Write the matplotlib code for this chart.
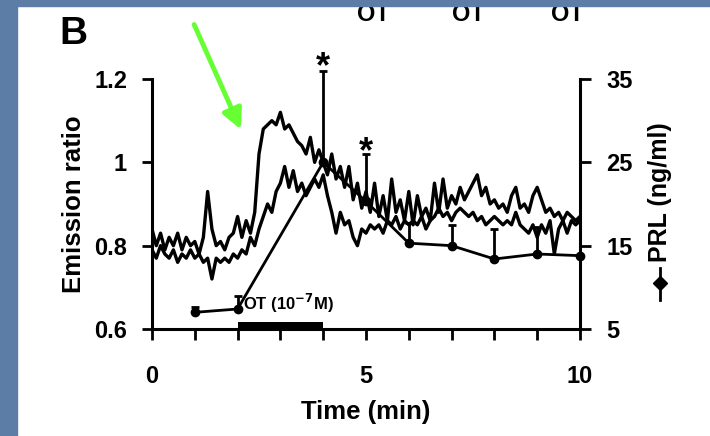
import matplotlib
matplotlib.use("Agg")
import matplotlib.pyplot as plt
import numpy as np
from matplotlib.patches import Rectangle
from matplotlib.lines import Line2D

plt.rcParams["font.family"] = ["Liberation Sans", "DejaVu Sans"]
plt.rcParams["font.weight"] = "bold"

time_trace = np.arange(101) / 10
ratio_a = [0.84, 0.80, 0.83, 0.79, 0.82, 0.80, 0.83, 0.79, 0.82, 0.80,
           0.81, 0.78, 0.82, 0.93, 0.84, 0.80, 0.81, 0.79, 0.82, 0.83,
           0.87, 0.82, 0.86, 0.83, 0.88, 1.02, 1.08, 1.09, 1.10, 1.09,
           1.12, 1.08, 1.09, 1.07, 1.05, 1.04, 1.02, 1.06, 1.00, 1.03,
           1.00, 0.97, 1.02, 0.96, 0.99, 0.94, 0.99, 0.91, 0.95, 0.89,
           0.93, 0.88, 0.95, 0.87, 0.92, 0.86, 0.96, 0.88, 0.91, 0.86,
           0.93, 0.85, 0.92, 0.87, 0.89, 0.86, 0.95, 0.88, 0.96, 0.89,
           0.92, 0.90, 0.94, 0.91, 0.93, 0.95, 0.97, 0.92, 0.94, 0.90,
           0.91, 0.89, 0.90, 0.88, 0.92, 0.94, 0.89, 0.90, 0.88, 0.92,
           0.94, 0.91, 0.88, 0.89, 0.87, 0.88, 0.86, 0.88, 0.87, 0.86,
           0.87]
ratio_b = [0.79, 0.77, 0.80, 0.78, 0.77, 0.79, 0.76, 0.78, 0.77, 0.79,
           0.77, 0.78, 0.76, 0.77, 0.72, 0.77, 0.76, 0.77, 0.76, 0.78,
           0.77, 0.79, 0.78, 0.82, 0.80, 0.84, 0.87, 0.90, 0.88, 0.93,
           0.95, 0.99, 0.94, 0.98, 0.93, 0.95, 0.92, 0.94, 0.96, 0.94,
           0.97, 0.92, 0.88, 0.83, 0.88, 0.85, 0.86, 0.82, 0.80, 0.84,
           0.83, 0.85, 0.84, 0.85, 0.83, 0.86, 0.85, 0.87, 0.84, 0.86,
           0.85, 0.86, 0.85, 0.87, 0.84, 0.86, 0.87, 0.89, 0.87, 0.88,
           0.86, 0.88, 0.89, 0.88, 0.87, 0.88, 0.86, 0.87, 0.85, 0.86,
           0.87, 0.86, 0.85, 0.86, 0.85, 0.88, 0.85, 0.84, 0.83, 0.85,
           0.82, 0.85, 0.83, 0.86, 0.78, 0.84, 0.86, 0.83, 0.86, 0.85,
           0.86]

# PRL release (ng/ml) with upper error
prl_time = [1, 2, 4, 5, 6, 7, 8, 9, 10]
prl = [7.0, 7.4, 25.0, 20.3, 15.3, 15.0, 13.4, 14.0, 13.8]
prl_err = [0.6, 1.6, 11.0, 5.7, 2.4, 2.5, 3.6, 3.2, 0.0]
star_time = [4, 5]
star_prl = [36.4, 26.2]

ot_start, ot_end = 2, 4
top_ot_x = [373, 468, 567]

blue = "#5b7da6"
green = "#66ff33"

fig = plt.figure(figsize=(7.1, 4.36), dpi=100)
fig.patch.set_facecolor("white")
ax = fig.add_axes([152 / 710, 107 / 436, 428 / 710, 250 / 436])
ax.set_facecolor("none")

ax.plot(time_trace, ratio_a, color="black", lw=2.4)
ax.plot(time_trace, ratio_b, color="black", lw=2.4)
ax.fill_between([ot_start, ot_end], 0.6, 0.617, color="black", lw=0)
ax.text(2.13, 0.662, r"OT (10$^{\mathbf{-7}}$M)", fontsize=12, fontweight="bold",
        ha="left", va="center")

ax.set_xlim(0, 10)
ax.set_ylim(0.6, 1.2)
ax.set_xticks([0, 5, 10])
ax.set_xticklabels(["0", "5", "10"])
ax.set_xticks(range(11), minor=True)
ax.set_yticks([0.6, 0.8, 1.0, 1.2])
ax.set_yticklabels(["0.6", "0.8", "1", "1.2"])
ax.tick_params(axis="x", which="both", direction="out", length=8, width=2, pad=18, labelsize=17)
ax.tick_params(axis="y", direction="out", length=7, width=2, pad=11, labelsize=17)
ax.spines["top"].set_visible(False)
ax.spines["right"].set_visible(False)
for s in ["left", "bottom"]:
    ax.spines[s].set_linewidth(2.2)
ax.set_xlabel("Time (min)", fontsize=18.5, fontweight="bold")
ax.xaxis.set_label_coords(0.5, -0.285)
ax.set_ylabel("Emission ratio", fontsize=18.5, fontweight="bold")
ax.yaxis.set_label_coords(-0.155, 0.5)

ax2 = ax.twinx()
ax2.set_ylim(5, 35)
ax2.set_yticks([5, 15, 25, 35])
ax2.tick_params(axis="y", direction="out", length=8, width=2, pad=11, labelsize=17)
for s in ["top", "left", "bottom"]:
    ax2.spines[s].set_visible(False)
ax2.spines["right"].set_linewidth(2.2)
ax2.errorbar(prl_time, prl, yerr=[np.zeros(len(prl_err)), prl_err], color="black",
             lw=2, marker="o", ms=6, capsize=3, capthick=2, elinewidth=2, clip_on=False)
for x, y in zip(star_time, star_prl):
    ax2.text(x, y, "*", fontsize=26, fontweight="bold", ha="center", va="center", clip_on=False)

ax2.text(1.187, 0.548, "PRL (ng/ml)", rotation=90, fontsize=18, fontweight="bold",
         ha="center", va="center", transform=ax2.transAxes)
ax2.add_line(Line2D([1.187, 1.187], [0.116, 0.244], color="black", lw=2,
                    transform=ax2.transAxes, clip_on=False))
ax2.add_line(Line2D([1.187], [0.184], color="black", marker="D", ms=7,
                    transform=ax2.transAxes, clip_on=False))

fig.text(73 / 710, 1 - 34 / 436, "B", fontsize=28, fontweight="bold", ha="center", va="center")
for x in top_ot_x:
    fig.text(x / 710, 1 - 21 / 436, "OT", fontsize=17, fontweight="bold", ha="center", va="baseline")

ax.annotate("", xy=(242, 436 - 132), xytext=(193, 436 - 22), xycoords="figure pixels",
            textcoords="figure pixels", annotation_clip=False,
            arrowprops=dict(arrowstyle="-|>", color=green, lw=3.5, mutation_scale=30))

# blue slide background peeking out at the left and top edges
fig.add_artist(Rectangle((0, 0), 17 / 710, 1, transform=fig.transFigure,
                         color=blue, zorder=20))
fig.add_artist(Rectangle((0, 1 - 6 / 436), 1, 6 / 436, transform=fig.transFigure,
                         color=blue, zorder=20))

fig.savefig("out.png", dpi=100, facecolor=fig.get_facecolor())
